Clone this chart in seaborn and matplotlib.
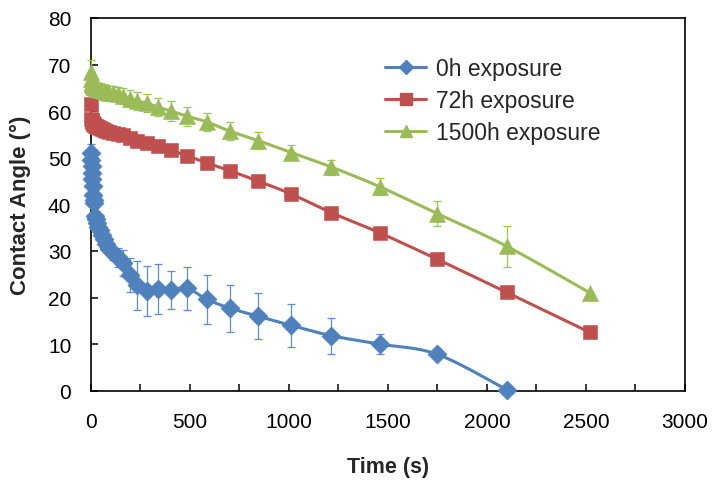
import numpy as np
import matplotlib
matplotlib.use("Agg")
import matplotlib.pyplot as plt
import seaborn as sns
from matplotlib.lines import Line2D
from matplotlib.ticker import MultipleLocator

sns.set_theme(style="white")
plt.rcParams["font.family"] = ["Liberation Sans", "DejaVu Sans"]

# ---- measurements: time (s), contact angle (deg), std. deviation ----
times = [0, 2, 4, 6, 8, 10, 13, 16, 19, 22, 26, 32, 38, 45, 55, 65, 79, 94,
         113, 136, 163, 196, 235, 283, 339, 407, 488, 586, 703, 844, 1013,
         1215, 1458, 1750, 2100, 2520]

angle_0h = [51.0, 49.6, 48.2, 46.8, 45.4, 44.0, 42.0, 41.0, 40.2, 37.5, 36.8,
            36.0, 35.2, 34.4, 33.4, 32.6, 31.4, 30.5, 29.5, 28.6, 27.5, 24.8,
            22.6, 21.4, 21.8, 21.6, 22.0, 19.6, 17.7, 16.0, 14.0, 11.8, 10.0,
            7.8, 0.2]
err_0h = [2.0, 1.0, 1.0, 1.0, 1.0, 1.0, 1.0, 1.0, 1.0, 1.0, 1.2, 1.2, 1.2,
          1.2, 1.2, 1.2, 1.2, 1.2, 1.5, 2.0, 2.8, 3.6, 5.2, 5.3, 5.4, 4.0,
          4.6, 5.3, 5.0, 5.0, 4.6, 3.9, 2.1, 0.0, 0.0]

angle_72h = [61.5, 58.3, 58.0, 57.8, 57.6, 57.5, 57.3, 57.2, 57.0, 56.9, 56.8,
             56.7, 56.5, 56.4, 56.2, 56.0, 55.8, 55.6, 55.4, 55.1, 54.8, 54.3,
             53.7, 53.2, 52.5, 51.6, 50.4, 48.9, 47.2, 45.0, 42.2, 38.2, 33.9,
             28.2, 21.1, 12.5]

angle_1500h = [68.5, 66.8, 66.3, 66.0, 65.8, 65.6, 65.4, 65.3, 65.2, 65.1,
               65.0, 64.8, 64.7, 64.6, 64.5, 64.4, 64.2, 64.0, 63.8, 63.6,
               63.2, 62.7, 62.2, 61.7, 60.9, 60.0, 58.9, 57.7, 55.7, 53.7,
               51.1, 48.0, 43.8, 38.0, 31.0, 21.0]
err_1500h = [2.4, 1.2, 1.2, 1.2, 1.2, 1.2, 1.2, 1.2, 1.2, 1.2, 1.2, 1.3, 1.3,
             1.3, 1.3, 1.4, 1.4, 1.5, 1.5, 1.6, 1.7, 1.8, 1.9, 1.9, 1.9, 2.1,
             2.0, 2.0, 1.9, 1.9, 1.6, 1.6, 1.9, 2.7, 4.4, 0.0]

labels = ["0h exposure", "72h exposure", "1500h exposure"]
colors = ["#4F81BD", "#C0504D", "#9BBB59"]
bar_colors = ["#5A8ED6", "#C0504D", "#92CC4F"]

XMAX, YMAX = 3000, 80
# screen scale (pixels per data unit) used for the smoothed connecting line
SX, SY = 594.3 / XMAX, 372.7 / YMAX


def smooth_line(x, y, n=14):
    """Cubic Bezier smoothing through the points, done in screen units."""
    P = np.column_stack([np.asarray(x, float) * SX, np.asarray(y, float) * SY])
    out = []
    last = len(P) - 1
    for i in range(last):
        p0, p1 = P[max(i - 1, 0)], P[i]
        p2, p3 = P[i + 1], P[min(i + 2, last)]
        c1 = p1 + (p2 - p0) / 6.0
        c2 = p2 - (p3 - p1) / 6.0
        t = np.linspace(0, 1, n, endpoint=(i == last - 1))[:, None]
        out.append((1 - t) ** 3 * p1 + 3 * (1 - t) ** 2 * t * c1
                   + 3 * (1 - t) * t ** 2 * c2 + t ** 3 * p2)
    Q = np.vstack(out)
    return Q[:, 0] / SX, Q[:, 1] / SY


fig = plt.figure(figsize=(7.12, 4.81), dpi=100)
ax = fig.add_axes([0.1274, 0.1857, 0.8347, 0.7748])

series = [
    (times[:len(angle_0h)], angle_0h, err_0h, "D", 95),
    (times, angle_72h, None, "s", 115),
    (times, angle_1500h, err_1500h, "^", 135),
]

handles = []
for k, (t, y, e, mk, size) in enumerate(series):
    cx, cy = smooth_line(t, y)
    sns.lineplot(x=cx, y=cy, ax=ax, color=colors[k], linewidth=2.2,
                 sort=False, estimator=None, legend=False, zorder=2 + k)
    if e is not None:
        bars = ax.errorbar(t, y, yerr=e, fmt="none", ecolor=bar_colors[k],
                           elinewidth=0.9, capsize=3, capthick=0.9,
                           zorder=2.5 + k)
        for art in bars.lines[1] + bars.lines[2]:
            art.set_clip_on(False)
    sns.scatterplot(x=t, y=y, ax=ax, marker=mk, s=size, color=colors[k],
                    edgecolor=colors[k], linewidth=0.4, legend=False,
                    zorder=2.6 + k, clip_on=False)
    handles.append(Line2D([], [], color=colors[k], linewidth=2.2, marker=mk,
                          markersize=np.sqrt(size) * 0.78,
                          markeredgecolor=colors[k]))

ax.set_xlim(0, XMAX)
ax.set_ylim(0, YMAX)
ax.xaxis.set_major_locator(MultipleLocator(500))
ax.xaxis.set_minor_locator(MultipleLocator(250))
ax.yaxis.set_major_locator(MultipleLocator(10))
ax.tick_params(which="both", direction="in", length=5, width=1.1,
               colors="black", top=False, right=False, bottom=True, left=True)
ax.tick_params(axis="x", which="major", labelsize=15, pad=15)
ax.tick_params(axis="y", which="major", labelsize=15, pad=14)

for side in ["left", "bottom", "top", "right"]:
    ax.spines[side].set_visible(True)
    ax.spines[side].set_color("black")
    ax.spines[side].set_linewidth(1.2)

ax.set_xlabel("Time (s)", fontsize=15.5, fontweight="bold", labelpad=18)
ax.set_ylabel("Contact Angle (°)", fontsize=16, fontweight="bold", labelpad=12)

ax.legend(handles, labels, loc="upper left", bbox_to_anchor=(0.495, 0.895),
          frameon=False, fontsize=16.5, handlelength=1.8, handletextpad=0.45,
          labelspacing=0.40, borderaxespad=0, borderpad=0)

fig.savefig("out.png", dpi=100)
